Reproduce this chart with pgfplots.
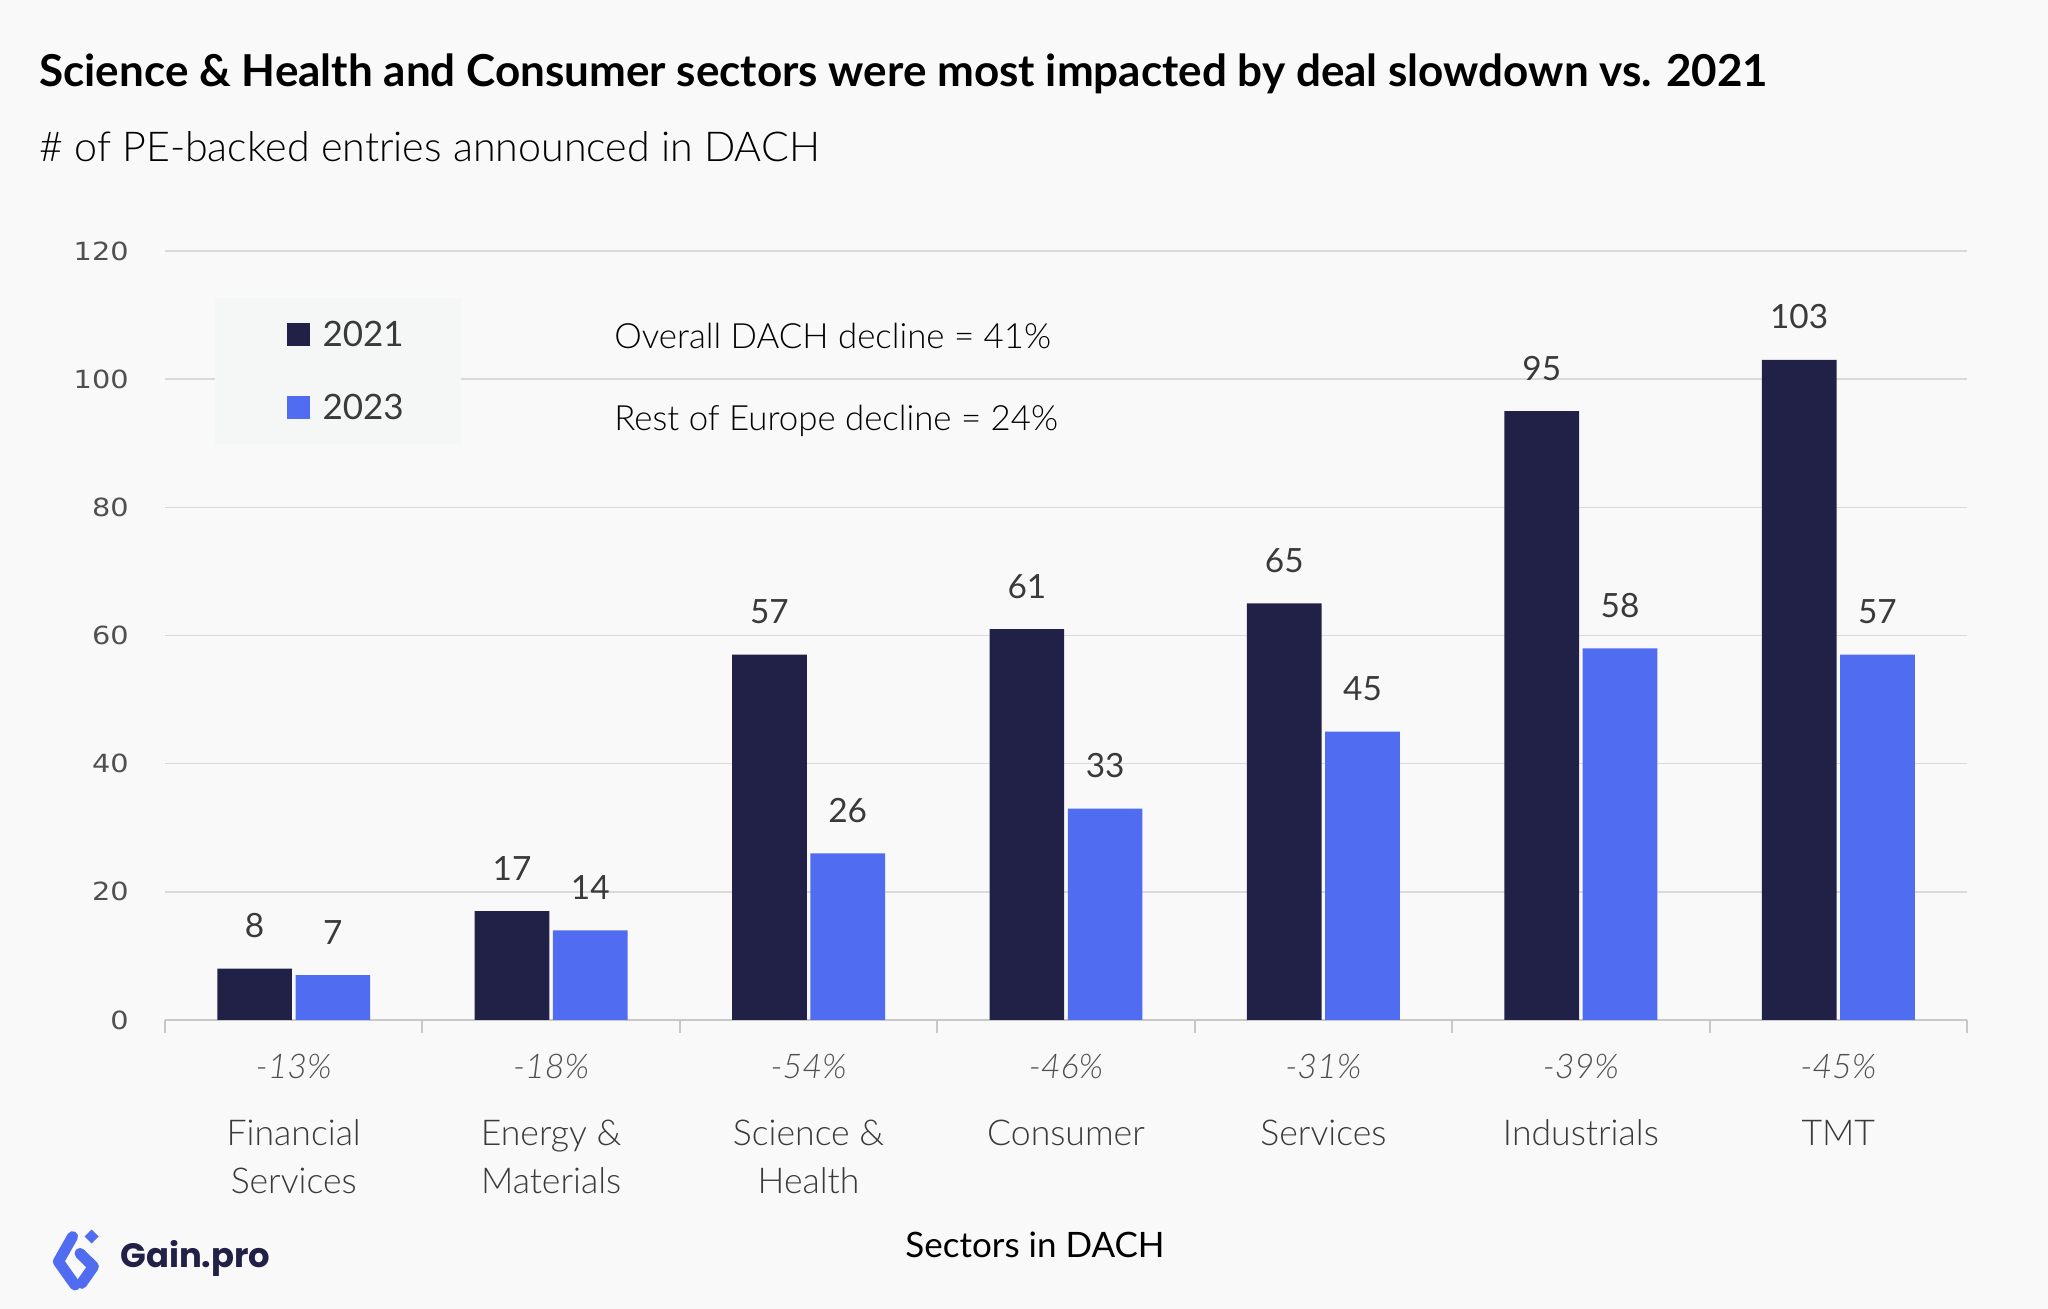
\documentclass[border=0pt]{standalone}
\usepackage{fontspec}
\usepackage{pgfplots}
\usepackage{pgfplotstable}
\pgfplotsset{compat=1.18}
\setmainfont{Lato}
\newfontfamily\lightfont{Lato}[UprightFont={* Light},ItalicFont={* Light Italic}]
\newfontfamily\tickfont{DejaVu Sans}
\newfontfamily\logofont{Poppins}

\definecolor{bg}{HTML}{F9F9F9}
\definecolor{legbg}{HTML}{F5F7F7}
\definecolor{navy}{HTML}{212147}
\definecolor{brand}{HTML}{506CF0}
\definecolor{gridc}{HTML}{DADADA}
\definecolor{axisc}{HTML}{C8C8C8}
\definecolor{tickc}{HTML}{505050}
\definecolor{labc}{HTML}{3A3A3A}

% number of PE-backed entries per sector
\pgfplotstableread{
x y21 y23
0 8   7
1 17  14
2 57  26
3 61  33
4 65  45
5 95  58
6 103 57
}\dealdata

\begin{document}
\begin{tikzpicture}
\fill[bg] (0,0) rectangle (1024pt,654.5pt);
\useasboundingbox (0,0) rectangle (1024pt,654.5pt);

% titles
\node[anchor=base west, inner sep=0pt, font=\bfseries\fontsize{22}{26}\selectfont, text=black]
  at (19.5pt,611pt) {Science \& Health and Consumer sectors were most impacted by deal slowdown vs. 2021};
\node[anchor=base west, inner sep=0pt, font=\lightfont\fontsize{20.6}{24}\selectfont, text=black]
  at (19.5pt,573.5pt) {\# of PE-backed entries announced in DACH};

\begin{axis}[
  at={(82.5pt,144.5pt)}, anchor=south west,
  width=901pt, height=384.5pt, scale only axis,
  xmin=-0.5, xmax=6.5, ymin=0, ymax=120,
  axis x line*=bottom, axis y line*=left,
  x axis line style={-, draw=axisc, line width=1pt},
  y axis line style={draw=none},
  xtick={-0.5,0.5,...,6.5}, xticklabels={},
  xtick align=outside,
  major tick length=6.5pt,
  xtick style={draw=axisc, line width=1pt},
  ytick={0,20,...,120},
  ytick style={draw=none},
  ymajorgrids, grid style={draw=gridc, line width=0.75pt},
  /pgf/number format/assume math mode=true,
  yticklabel={\scalebox{1.15}[1]{\pgfmathprintnumber{\tick}}},
  yticklabel style={font=\tickfont\fontsize{12.5}{15}\selectfont, text=tickc,
    anchor=east, inner sep=0pt, xshift=-18pt},
  every node near coord/.append style={anchor=base, yshift=15.5pt,
    font=\fontsize{16.7}{20}\selectfont, text=labc},
  legend image code/.code={\fill[#1] (0pt,-5.75pt) rectangle (11.5pt,5.75pt);},
  legend style={draw=none, fill=none, at={(0.0677,0.9395)}, anchor=north west,
    inner sep=0pt, outer sep=0pt, row sep=0pt,
    nodes={inner sep=0pt, text depth=0pt, minimum height=36.5pt},
    cells={anchor=west},
    /tikz/every odd column/.append style={column sep=6.25pt},
    font=\fontsize{17.5}{20}\selectfont, text=labc},
]
\fill[legbg] (axis description cs:0.0277,0.749) rectangle (axis description cs:0.1643,0.939);
\addplot[ybar, bar width=0.29, bar shift=0pt, fill=navy, draw=none, nodes near coords]
  table[x expr=\thisrow{x}-0.152, y=y21] {\dealdata};
\addplot[ybar, bar width=0.29, bar shift=0pt, fill=brand, draw=none, nodes near coords]
  table[x expr=\thisrow{x}+0.152, y=y23] {\dealdata};
\legend{2021,2023}
\end{axis}

% notes
\node[anchor=base west, inner sep=0pt, font=\lightfont\fontsize{17.4}{21}\selectfont, text=black]
  at (307pt,480pt) {Overall DACH decline = 41\%};
\node[anchor=base west, inner sep=0pt, font=\lightfont\fontsize{17.4}{21}\selectfont, text=black]
  at (307pt,439pt) {Rest of Europe decline = 24\%};

% change 2021 -> 2023 and sector names
\foreach \i/\p/\a/\b in {0/-13/Financial/Services, 1/-18/Energy \&/Materials,
    2/-54/Science \&/Health, 3/-46/Consumer/, 4/-31/Services/,
    5/-39/Industrials/, 6/-45/TMT/} {
  \pgfmathsetmacro{\cx}{146.857+128.714*\i}
  \node[anchor=base, inner sep=0pt, font=\lightfont\itshape\fontsize{17}{20}\selectfont, text=tickc]
    at (\cx pt,115pt) {\p\%};
  \node[anchor=base, inner sep=0pt, font=\lightfont\fontsize{17.8}{21}\selectfont, text=labc]
    at (\cx pt,81.5pt) {\a};
  \node[anchor=base, inner sep=0pt, font=\lightfont\fontsize{17.8}{21}\selectfont, text=labc]
    at (\cx pt,57.5pt) {\b};
}
\node[anchor=base, inner sep=0pt, font=\fontsize{17.5}{21}\selectfont, text=black]
  at (517.5pt,25.5pt) {Sectors in DACH};

% brand mark
\begin{scope}[brand, line width=5.5pt, line join=round, line cap=round]
  \draw (36.3pt,36.2pt) -- (29.2pt,23.7pt) -- (37.5pt,12pt);
  \draw (40pt,27.8pt) -- (46.7pt,21.2pt) -- (40.8pt,12.8pt);
  \fill (45.8pt,39.7pt) -- (49.3pt,36.2pt) -- (45.8pt,32.7pt) -- (42.3pt,36.2pt) -- cycle;
\end{scope}
\node[anchor=base west, inner sep=0pt, font=\logofont\bfseries\fontsize{16.9}{20}\selectfont, text=navy]
  at (60pt,20.5pt) {Gain.pro};
\end{tikzpicture}
\end{document}
